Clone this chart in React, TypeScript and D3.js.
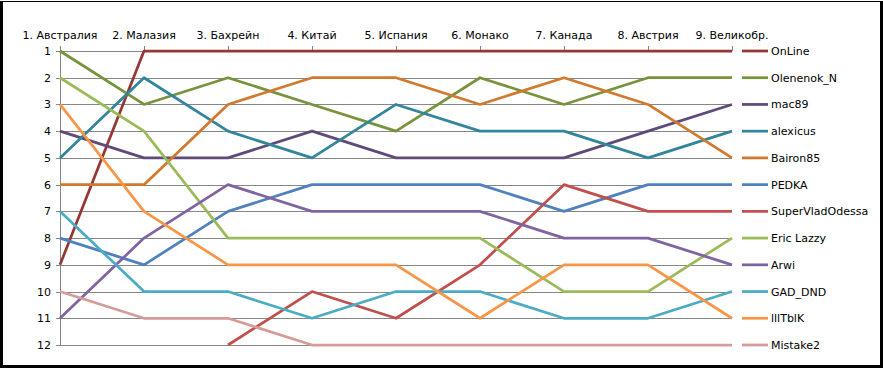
import React from "react";
import * as d3 from "d3";

const categories = ["1. Австралия", "2. Малазия", "3. Бахрейн", "4. Китай", "5. Испания", "6. Монако", "7. Канада", "8. Австрия", "9. Великобр."];
const rankTicks = [1, 2, 3, 4, 5, 6, 7, 8, 9, 10, 11, 12];

const seriesNames = ["OnLine", "Olenenok_N", "mac89", "alexicus", "Bairon85", "PEDKA", "SuperVladOdessa", "Eric Lazzy", "Arwi", "GAD_DND", "lllTblK", "Mistake2"];
const seriesColors = ["#953735", "#77933C", "#604A7B", "#31859C", "#D0792F", "#4F81BD", "#C0504D", "#9BBB59", "#8064A2", "#4BACC6", "#F79646", "#D69B99"];

const onLine = [9, 1, 1, 1, 1, 1, 1, 1, 1];
const olenenok = [1, 3, 2, 3, 4, 2, 3, 2, 2];
const mac89 = [4, 5, 5, 4, 5, 5, 5, 4, 3];
const alexicus = [5, 2, 4, 5, 3, 4, 4, 5, 4];
const bairon85 = [6, 6, 3, 2, 2, 3, 2, 3, 5];
const pedka = [8, 9, 7, 6, 6, 6, 7, 6, 6];
const superVlad = [null, null, 12, 10, 11, 9, 6, 7, 7];
const ericLazzy = [2, 4, 8, 8, 8, 8, 10, 10, 8];
const arwi = [11, 8, 6, 7, 7, 7, 8, 8, 9];
const gadDnd = [7, 10, 10, 11, 10, 10, 11, 11, 10];
const tbik = [3, 7, 9, 9, 9, 11, 9, 9, 11];
const mistake2 = [10, 11, 11, 12, 12, 12, 12, 12, 12];

const seriesValues: (number | null)[][] = [onLine, olenenok, mac89, alexicus, bairon85, pedka, superVlad, ericLazzy, arwi, gadDnd, tbik, mistake2];

const W = 883;
const H = 368;
const FONT = "'DejaVu Sans', Verdana, sans-serif";

export default function App() {
  const x = d3.scalePoint<string>().domain(categories).range([60, 732]).padding(0);
  const y = d3.scaleLinear().domain([1, 12]).range([51, 345]);
  const line = d3
    .line<number | null>()
    .defined((d) => d != null)
    .x((_, i) => x(categories[i]) as number)
    .y((d) => y(d as number));

  const gridColor = "#868686";

  return (
    <svg width={W} height={H} style={{ position: "absolute", left: 0, top: 0, background: "#fff" }} fontFamily={FONT}>
      <rect x={0} y={0} width={W} height={H} fill="#fff" />
      {/* border */}
      <line x1={1.5} y1={1.5} x2={881} y2={1.5} stroke="#000" strokeWidth={1} />
      <rect x={0} y={1} width={3} height={H - 1} fill="#000" />
      <rect x={880} y={1} width={3} height={H - 1} fill="#000" />
      <rect x={0} y={365} width={W} height={3} fill="#000" />

      {/* horizontal grid lines */}
      {rankTicks.map((r) => (
        <line key={"g" + r} x1={60} x2={732} y1={Math.round(y(r)) + 0.5} y2={Math.round(y(r)) + 0.5} stroke={gridColor} strokeWidth={1} />
      ))}
      {/* left axis */}
      <line x1={60.5} x2={60.5} y1={y(1)} y2={y(12) + 1} stroke={gridColor} strokeWidth={1} />
      {rankTicks.map((r) => (
        <line key={"lt" + r} x1={56} x2={60} y1={Math.round(y(r)) + 0.5} y2={Math.round(y(r)) + 0.5} stroke={gridColor} strokeWidth={1} />
      ))}
      {/* top ticks */}
      {categories.map((c) => (
        <line key={"tt" + c} x1={Math.round(x(c) as number) + 0.5} x2={Math.round(x(c) as number) + 0.5} y1={46} y2={51} stroke={gridColor} strokeWidth={1} />
      ))}

      {/* y labels */}
      {rankTicks.map((r) => (
        <text key={"yl" + r} x={51} y={y(r)} dy="0.36em" textAnchor="end" fontSize={11} fill="#000">
          {r}
        </text>
      ))}
      {/* category labels */}
      {categories.map((c) => (
        <text key={"cl" + c} x={x(c) as number} y={39} textAnchor="middle" fontSize={11} fill="#000">
          {c}
        </text>
      ))}

      {/* series lines */}
      <g clipPath="none">
        {seriesValues.map((vals, i) => (
          <path key={"s" + i} d={line(vals) || ""} fill="none" stroke={seriesColors[i]} strokeWidth={2.75} strokeLinejoin="round" strokeLinecap="butt" />
        ))}
      </g>

      {/* legend */}
      {seriesNames.map((n, i) => (
        <g key={"lg" + i}>
          <line x1={742} x2={768} y1={y(i + 1)} y2={y(i + 1)} stroke={seriesColors[i]} strokeWidth={2.75} />
          <text x={771} y={y(i + 1)} dy="0.36em" fontSize={11} fill="#000">
            {n}
          </text>
        </g>
      ))}
    </svg>
  );
}
